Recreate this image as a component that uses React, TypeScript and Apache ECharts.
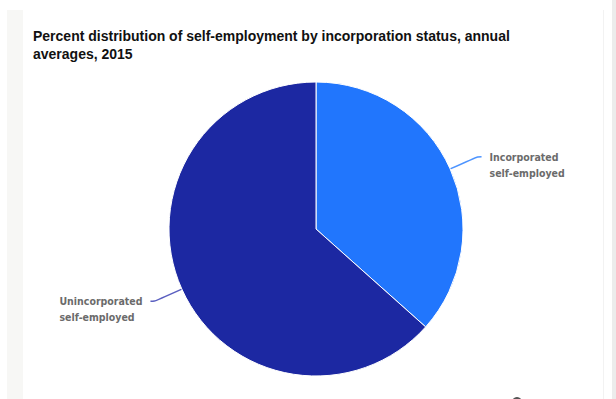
import React, { useEffect, useRef } from "react";
import * as echarts from "echarts";

const titleText =
  "Percent distribution of self-employment by incorporation status, annual\naverages, 2015";
const categories = ["Incorporated", "Unincorporated"];
const subLabel = "self-employed";
const values = [36.6, 63.4];
const colors = ["#2176fd", "#1c28a2"];
const lineColors = ["#4d94ff", "#5a5fc0"];
const labelWidths = [72, 83];

export default function App() {
  const ref = useRef<HTMLDivElement>(null);
  useEffect(() => {
    if (!ref.current) return;
    const chart = echarts.init(ref.current, undefined, { renderer: "svg" });
    const font = {
      color: "#6b6b6b",
      fontFamily: "DejaVu Sans Condensed, DejaVu Sans, sans-serif",
      fontWeight: "bold" as const,
      fontSize: 10.5,
      lineHeight: 16,
      align: "left" as const,
    };
    chart.setOption({
      animation: false,
      backgroundColor: "#ffffff",
      graphic: [
        { type: "rect", shape: { x: 7, y: 10, width: 16, height: 400 }, style: { fill: "#f7f7f5" }, z: -10 },
        { type: "rect", shape: { x: 603, y: 10, width: 1, height: 400 }, style: { fill: "#f2f2f2" }, z: -10 },
        { type: "rect", shape: { x: 612, y: 0, width: 4, height: 399 }, style: { fill: "#ececec" }, z: -10 },
        { type: "circle", shape: { cx: 517, cy: 402, r: 5 }, style: { fill: "#555555" } },
      ],
      title: {
        text: titleText,
        left: 28,
        top: 22,
        textStyle: {
          fontFamily: "Liberation Sans, Arial, sans-serif",
          fontSize: 14,
          fontWeight: "bold",
          color: "#111111",
          lineHeight: 18,
        },
      },
      series: [
        {
          type: "pie",
          center: [316, 229],
          radius: 147,
          startAngle: 90,
          clockwise: true,
          itemStyle: { borderColor: "#ffffff", borderWidth: 1 },
          label: {
            show: true,
            distanceToLabelLine: 8,
          },
          labelLine: {
            show: true,
            length: 30,
            length2: 4,
            smooth: true,
            lineStyle: { width: 1.5 },
          },
          emphasis: { disabled: true },
          data: categories.map((c, i) => ({
            name: c,
            value: values[i],
            itemStyle: { color: colors[i] },
            label: {
              formatter: "{s| }\n{t|" + c + "}\n{t|" + subLabel + "}",
              rich: {
                s: { ...font, height: 16 },
                t: { ...font, width: labelWidths[i] },
              },
            },
            labelLine: { lineStyle: { color: lineColors[i] } },
          })),
        },
      ],
    });
    return () => chart.dispose();
  }, []);
  return (
    <div style={{ position: "fixed", left: 0, top: 0, width: 616, height: 399 }}>
      <div ref={ref} style={{ width: 616, height: 399 }} />
    </div>
  );
}
